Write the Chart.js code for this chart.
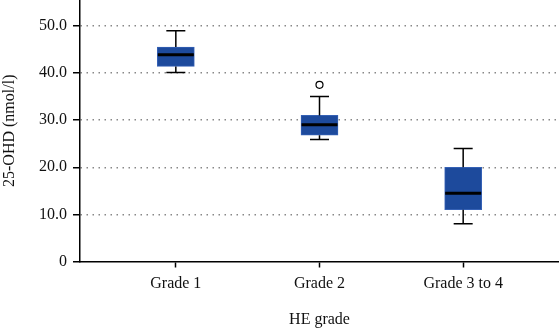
<!DOCTYPE html>
<html lang="en">
<head>
    <meta charset="UTF-8">
    <script src="https://cdn.jsdelivr.net/npm/chart.js"></script>
    <title>25-OHD by HE grade</title>
    <style>
        html, body { margin: 0; padding: 0; background: #fff; }
        #wrap { width: 559px; height: 329px; }
    </style>
</head>
<body>
    <div id="wrap"><canvas id="chart"></canvas></div>
    <script>
        // data
        const categories = ['Grade 1', 'Grade 2', 'Grade 3 to 4'];
        const whiskerLow = [40.1, 25.9, 8.0];
        const q1 = [41.4, 26.8, 11.0];
        const median = [43.9, 29.0, 14.5];
        const q3 = [45.5, 31.0, 20.0];
        const whiskerHigh = [49.0, 35.0, 24.0];
        const outlierCat = [1];
        const outlierVal = [37.5];

        const serif = '"Liberation Serif", "DejaVu Serif", serif';

        // whiskers and medians, drawn through the chart scales
        const boxPlot = {
            id: 'boxPlot',
            afterDatasetsDraw(chart) {
                const { ctx, scales: { x, y } } = chart;
                ctx.save();
                ctx.strokeStyle = '#000';
                categories.forEach((c, i) => {
                    const cx = x.getPixelForValue(i);
                    ctx.lineWidth = 1.5;
                    ctx.beginPath();
                    ctx.moveTo(cx, y.getPixelForValue(q3[i]));
                    ctx.lineTo(cx, y.getPixelForValue(whiskerHigh[i]));
                    ctx.moveTo(cx, y.getPixelForValue(q1[i]));
                    ctx.lineTo(cx, y.getPixelForValue(whiskerLow[i]));
                    ctx.moveTo(cx - 9.5, y.getPixelForValue(whiskerHigh[i]));
                    ctx.lineTo(cx + 9.5, y.getPixelForValue(whiskerHigh[i]));
                    ctx.moveTo(cx - 9.5, y.getPixelForValue(whiskerLow[i]));
                    ctx.lineTo(cx + 9.5, y.getPixelForValue(whiskerLow[i]));
                    ctx.stroke();
                    ctx.lineWidth = 3;
                    ctx.beginPath();
                    ctx.moveTo(cx - 18, y.getPixelForValue(median[i]));
                    ctx.lineTo(cx + 18, y.getPixelForValue(median[i]));
                    ctx.stroke();
                });
                ctx.restore();
            }
        };

        new Chart(document.getElementById('chart'), {
            type: 'bar',
            data: {
                datasets: [{
                    label: 'IQR',
                    data: categories.map((c, i) => ({ x: i, y: [q1[i], q3[i]] })),
                    backgroundColor: '#1d4a9c',
                    borderColor: '#3561b5',
                    borderWidth: 1,
                    borderSkipped: false,
                    barThickness: 37
                }, {
                    type: 'scatter',
                    label: 'Outlier',
                    data: outlierCat.map((c, i) => ({ x: c, y: outlierVal[i] })),
                    pointStyle: 'circle',
                    radius: 3.5,
                    borderWidth: 1.2,
                    borderColor: '#000',
                    backgroundColor: '#fff'
                }]
            },
            plugins: [boxPlot],
            options: {
                responsive: true,
                maintainAspectRatio: false,
                animation: false,
                layout: { padding: 0, autoPadding: false },
                plugins: { legend: { display: false }, tooltip: { enabled: false } },
                scales: {
                    x: {
                        type: 'linear',
                        offset: false,
                        min: -0.667,
                        max: 2.667,
                        afterFit: s => { s.height = 67.5; s.paddingLeft = 0; s.paddingRight = 0; },
                        border: { display: true, color: '#000', width: 1.5 },
                        grid: { offset: false, drawOnChartArea: false, tickLength: 6, tickColor: '#000', tickWidth: 1.5 },
                        ticks: {
                            stepSize: 1,
                            includeBounds: false,
                            autoSkip: false,
                            maxRotation: 0,
                            padding: 7,
                            color: '#111',
                            font: { family: serif, size: 16 },
                            callback: v => categories[v] || ''
                        },
                        title: {
                            display: true,
                            text: 'HE grade',
                            color: '#111',
                            font: { family: serif, size: 16 },
                            padding: { top: 4, bottom: 0 }
                        }
                    },
                    y: {
                        min: 0,
                        max: 55.5,
                        afterFit: s => { s.width = 80; s.paddingTop = 0; s.paddingBottom = 0; },
                        border: { display: true, color: '#000', width: 1.5, dash: [1.5, 4.5] },
                        grid: {
                            color: c => c.tick && c.tick.value === 0 ? 'rgba(0,0,0,0)' : '#888',
                            lineWidth: 1.5,
                            tickLength: 7,
                            tickColor: '#000',
                            tickWidth: 1.5,
                            tickBorderDash: []
                        },
                        ticks: {
                            stepSize: 10,
                            includeBounds: false,
                            padding: 6,
                            color: '#111',
                            font: { family: serif, size: 16 },
                            callback: v => v === 0 ? '0' : v.toFixed(1)
                        },
                        title: {
                            display: true,
                            text: '25-OHD (nmol/l)',
                            color: '#111',
                            font: { family: serif, size: 16 },
                            padding: { top: 0, bottom: 0 }
                        }
                    }
                }
            }
        });
    </script>
</body>
</html>
